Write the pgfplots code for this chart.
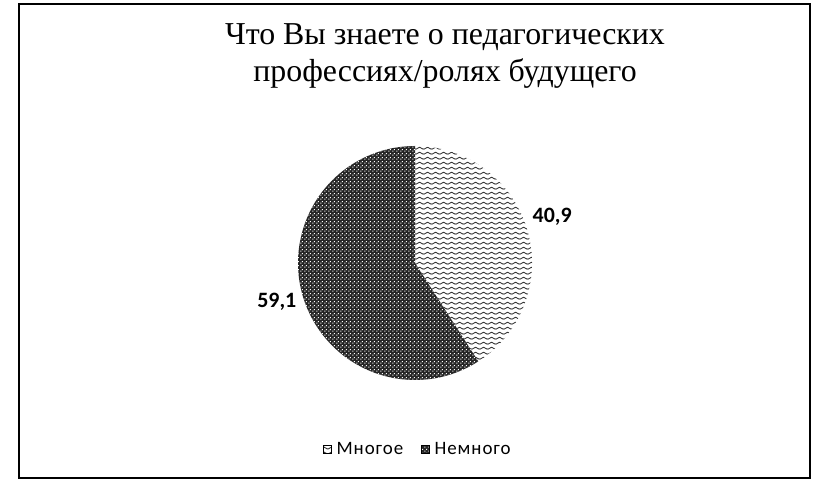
\documentclass[border=0pt]{standalone}
\usepackage{pgfplots}
\pgfplotsset{compat=1.18}
\usepackage{pgfplotstable}
\usepackage{fontspec}
\setmainfont{Liberation Serif}
\newfontfamily\carlito{Carlito}
\newfontfamily\carlitols[LetterSpace=5]{Carlito}
\usetikzlibrary{patterns.meta,calc}

\pgfplotstableread{
share
40.9
59.1
}\piedata

\tikzdeclarepattern{
  name=zigzag,
  type=uncolored,
  bounding box={(0,-1bp) and (8bp,4bp)},
  tile size={(8bp,5bp)},
  code={\draw[line width=1bp, line join=round] (-1bp,0.5bp) -- (0,0) -- (4bp,2.3bp) -- (8bp,0) -- (9bp,0.5bp);}
}
\tikzdeclarepattern{
  name=checkdots,
  type=uncolored,
  bounding box={(0,0) and (4bp,4bp)},
  tile size={(4bp,4bp)},
  code={\fill (0.4bp,0.4bp) rectangle (1.6bp,1.6bp); \fill (2.4bp,2.4bp) rectangle (3.6bp,3.6bp);}
}

\begin{document}%
\begin{tikzpicture}
\pgfplotstablegetelem{0}{share}\of\piedata \let\va\pgfplotsretval
\pgfplotstablegetelem{1}{share}\of\piedata \let\vb\pgfplotsretval
\pgfmathsetmacro\aS{90}
\pgfmathsetmacro\aM{90-3.6*\va}
\pgfmathsetmacro\aE{\aM-3.6*\vb}
\pgfmathsetmacro\mA{(\aS+\aM)/2}
\pgfmathsetmacro\mB{(\aM+\aE)/2}
\begin{axis}[
  x=1bp, y=1bp, xmin=0, xmax=826, ymin=0, ymax=484,
  hide axis, clip=false, scale only axis,
  at={(0,0)}, anchor=south west,
  legend columns=2,
  legend style={draw=none, fill=none, at={(0.506,0.072)}, anchor=center,
    font=\carlitols\fontsize{19}{22}\selectfont,
    /tikz/every even column/.append style={column sep=16bp},
    /tikz/every odd column/.append style={column sep=3bp}},
  legend cell align=left,
]
\fill[white] (axis cs:0,0) rectangle (axis cs:826,484);
\draw[line width=1.3bp] (axis cs:19,6) rectangle (axis cs:810,480);
% slice 1: Многое
\path[fill=white] (axis cs:415,221) -- ++(\aS:117bp) arc[start angle=\aS, end angle=\aM, radius=117bp] -- cycle;
\path[pattern={zigzag}, pattern color=black!80] (axis cs:415,221) -- ++(\aS:117bp) arc[start angle=\aS, end angle=\aM, radius=117bp] -- cycle;
% slice 2: Немного
\path[fill=black!85] (axis cs:415,221) -- ++(\aM:117bp) arc[start angle=\aM, end angle=\aE, radius=117bp] -- cycle;
\path[pattern={checkdots}, pattern color=white] (axis cs:415,221) -- ++(\aM:117bp) arc[start angle=\aM, end angle=\aE, radius=117bp] -- cycle;
% data labels
\node[font=\carlito\bfseries\fontsize{22}{26}\selectfont] at ($(axis cs:415,221)+(\mA:143bp)+(0,6bp)$) {\pgfmathprintnumber[fixed,fixed zerofill,precision=1,use comma,assume math mode=true]{\va}};
\node[font=\carlito\bfseries\fontsize{22}{26}\selectfont] at ($(axis cs:415,221)+(\mB:144bp)+(0,2bp)$) {\pgfmathprintnumber[fixed,fixed zerofill,precision=1,use comma,assume math mode=true]{\vb}};
% title
\node[anchor=base, font=\fontsize{32}{38}\selectfont] at (axis cs:445,439) {Что Вы знаете о педагогических};
\node[anchor=base, font=\fontsize{32}{38}\selectfont] at (axis cs:445,402) {профессиях/ролях будущего};
% legend
\addlegendimage{legend image code/.code={\fill[pattern={zigzag}, pattern color=black!80] (0,-4bp) rectangle (8bp,4bp);}}
\addlegendentry{Многое}
\addlegendimage{legend image code/.code={\fill[black!85] (0,-4bp) rectangle (8bp,4bp); \fill[pattern={checkdots}, pattern color=white] (0,-4bp) rectangle (8bp,4bp);}}
\addlegendentry{Немного}
\end{axis}
\end{tikzpicture}%
\end{document}
